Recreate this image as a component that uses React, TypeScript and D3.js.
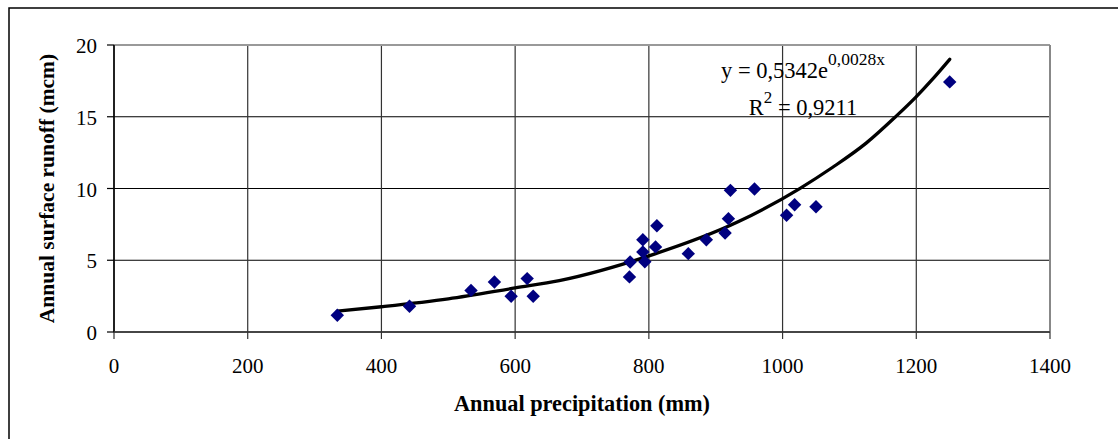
import React from "react";
import * as d3 from "d3";

// Observed points
const precipitation = [334, 442, 534, 569, 594, 618, 627, 771, 772, 791, 791, 794, 810, 812, 859, 886, 914, 919, 922, 958, 1006, 1018, 1050, 1250];
const runoff = [1.17, 1.8, 2.9, 3.49, 2.49, 3.72, 2.49, 3.84, 4.88, 6.43, 5.58, 4.9, 5.93, 7.41, 5.46, 6.43, 6.9, 7.9, 9.87, 9.96, 8.13, 8.87, 8.73, 17.43];

// Trend line as drawn in the picture
const trendX = [334, 400, 500, 600, 666, 798, 935, 1025, 1075, 1125, 1169, 1199, 1224, 1250];
const trendY = [1.45, 1.76, 2.31, 3.07, 3.58, 5.27, 7.71, 9.98, 11.48, 13.16, 15.0, 16.35, 17.6, 19.0];

const xTicks = [0, 200, 400, 600, 800, 1000, 1200, 1400];
const yTicks = [0, 5, 10, 15, 20];

const xTitle = "Annual precipitation (mm)";
const yTitle = "Annual surface runoff (mcm)";
const eqMain = "y = 0,5342e";
const eqExp = "0,0028x";
const r2Label = "R";
const r2Sup = "2";
const r2Value = " = 0,9211";

const W = 1118;
const H = 439;
const FONT = "'Liberation Serif', 'Times New Roman', serif";

export default function App() {
  const x = d3.scaleLinear().domain([0, 1400]).range([114, 1050]);
  const y = d3.scaleLinear().domain([0, 20]).range([332, 45]);
  const [x0, x1] = x.range();
  const [y0, y1] = y.range();

  const trendData = trendX.map((v, i) => [v, trendY[i]] as [number, number]);
  const line = d3
    .line<[number, number]>()
    .x((d) => x(d[0]))
    .y((d) => y(d[1]))
    .curve(d3.curveMonotoneX);

  const diamond = d3.symbol().type(d3.symbolDiamond2).size(115)();

  return (
    <svg
      width={W}
      height={H}
      style={{ position: "absolute", left: 0, top: 0, background: "#fff" }}
      fontFamily={FONT}
    >
      <rect x={0} y={0} width={W} height={H} fill="#fff" />
      {/* outer frame */}
      <rect x={9} y={8} width={W + 20} height={H + 20} fill="none" stroke="#000" strokeWidth={1.5} />

      {/* horizontal gridlines */}
      {yTicks.map((t) => (
        <line key={"hg" + t} x1={x0} x2={x1} y1={y(t)} y2={y(t)} stroke="#000" strokeWidth={1.2} />
      ))}
      {/* vertical gridlines */}
      {xTicks.map((t) => (
        <line key={"vg" + t} x1={x(t)} x2={x(t)} y1={y0} y2={y1} stroke="#333" strokeWidth={1.2} />
      ))}
      {/* plot border top/right */}
      <line x1={x0} x2={x1} y1={y1} y2={y1} stroke="#999" strokeWidth={2} />
      <line x1={x1} x2={x1} y1={y1} y2={y0} stroke="#888" strokeWidth={2} />
      {/* axes */}
      <line x1={x0} x2={x0} y1={y1} y2={y0} stroke="#000" strokeWidth={1.5} />
      <line x1={x0} x2={x1} y1={y0} y2={y0} stroke="#333" strokeWidth={1.5} />
      {/* tick marks */}
      {xTicks.map((t) => (
        <line key={"xt" + t} x1={x(t)} x2={x(t)} y1={y0} y2={y0 + 7} stroke="#333" strokeWidth={1.2} />
      ))}
      {yTicks.map((t) => (
        <line key={"yt" + t} x1={x0 - 7} x2={x0} y1={y(t)} y2={y(t)} stroke="#000" strokeWidth={1.2} />
      ))}
      {/* tick labels */}
      {xTicks.map((t) => (
        <text key={"xl" + t} x={x(t)} y={373} textAnchor="middle" fontSize={21} fill="#000">
          {t}
        </text>
      ))}
      {yTicks.map((t) => (
        <text key={"yl" + t} x={97} y={y(t) + 8} textAnchor="end" fontSize={21} fill="#000">
          {t}
        </text>
      ))}

      {/* trend line */}
      <path d={line(trendData) || ""} fill="none" stroke="#000" strokeWidth={3.3} strokeLinejoin="round" strokeLinecap="round" />

      {/* points */}
      {precipitation.map((p, i) => (
        <path key={"pt" + i} d={diamond || ""} transform={`translate(${x(p)},${y(runoff[i])})`} fill="#000080" />
      ))}

      {/* equation */}
      <text x={803} y={78} textAnchor="middle" fontSize={22.5} fill="#000">
        {eqMain}
        <tspan dy={-13} fontSize={17.5}>
          {eqExp}
        </tspan>
      </text>
      <text x={803} y={115} textAnchor="middle" fontSize={22.5} fill="#000">
        {r2Label}
        <tspan dy={-12} fontSize={17}>
          {r2Sup}
        </tspan>
        <tspan dy={12}>{r2Value}</tspan>
      </text>

      {/* axis titles */}
      <text x={(x0 + x1) / 2} y={411} textAnchor="middle" fontSize={22.3} fontWeight="bold" fill="#000">
        {xTitle}
      </text>
      <text
        transform={`translate(54,${(y0 + y1) / 2}) rotate(-90)`}
        textAnchor="middle"
        fontSize={21.5}
        fontWeight="bold"
        fill="#000"
      >
        {yTitle}
      </text>
    </svg>
  );
}
